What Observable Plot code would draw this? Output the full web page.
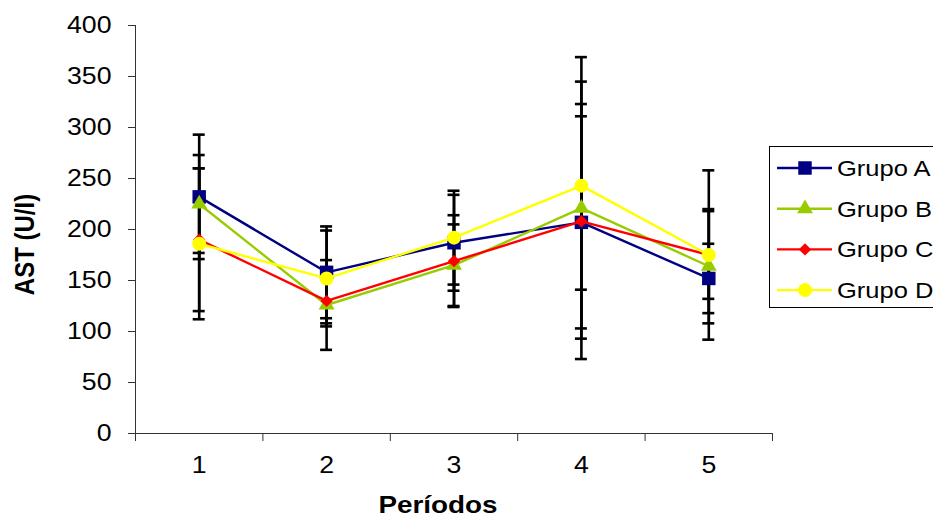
<!DOCTYPE html>
<html>
<head>
<meta charset="utf-8">
<script src="https://cdn.jsdelivr.net/npm/d3@7"></script>
<script src="https://cdn.jsdelivr.net/npm/@observablehq/plot@0.6"></script>
<style>
  html, body { margin: 0; padding: 0; background: #fff; }
  #chart { position: relative; width: 933px; height: 519px; overflow: hidden;
           font-family: "Liberation Sans", Arial, sans-serif; }
  #legend { position: absolute; left: 769px; top: 146px; width: 180px; height: 162px;
            border: 1px solid #000; box-sizing: border-box; background: #fff; }
  #legend svg { position: absolute; left: 0; top: 0; overflow: visible; }
</style>
</head>
<body>
<div id="chart"></div>
<script>
// AST (U/l) by period: group means and standard deviations
const periods = [1, 2, 3, 4, 5];
const groups = ["Grupo A", "Grupo B", "Grupo C", "Grupo D"];
const colors = ["#000080", "#99CC00", "#FF0000", "#FFFF00"];
const symbols = ["square", "triangle", "diamond2", "circle"];
const symbolRadius = [7.6, 5.9, 5.6, 7];

const meanA = [232, 158, 187, 207, 152];
const sdA   = [61, 45, 47, 104, 34];
const meanB = [225, 126, 165, 221, 164];
const sdB   = [48, 44, 40, 148, 56];
const meanC = [190, 130, 169, 208, 175];
const sdC   = [70, 22, 45, 115, 43];
const meanD = [186, 152, 192, 243, 175];
const sdD   = [74, 47, 46, 102, 83];

const yTicks = d3.range(0, 401, 50);

const means = [meanA, meanB, meanC, meanD];
const sds = [sdA, sdB, sdC, sdD];

const rows = groups.flatMap((g, i) =>
  periods.map((p, j) => ({group: g, period: p, mean: means[i][j], sd: sds[i][j]})));

// cap end points for the error bars
const caps = rows.flatMap(d => [
  {period: d.period, v: d.mean + d.sd},
  {period: d.period, v: d.mean - d.sd}
]);

// category boundaries for the x-axis tick marks
const bounds = d3.range(0.5, 6, 1);
const capHalf = 0.047;

const font = '"Liberation Sans", Arial, sans-serif';
// the typeface is drawn slightly wide
const textStretch = 1.16;

const seriesMarks = groups.flatMap((g, i) => {
  const data = rows.filter(d => d.group === g);
  return [
    Plot.line(data, {x: "period", y: "mean", stroke: colors[i], strokeWidth: 2.4}),
    Plot.dot(data, {x: "period", y: "mean", symbol: symbols[i], r: symbolRadius[i],
                    fill: colors[i], stroke: "none"})
  ];
});

const chart = Plot.plot({
  width: 933,
  height: 519,
  marginLeft: 135,
  marginRight: 161,
  marginTop: 25,
  marginBottom: 86,
  style: {fontFamily: font, fontSize: "23px", color: "#000", background: "transparent"},
  x: {type: "linear", domain: [0.5, 5.5]},
  y: {domain: [0, 400]},
  marks: [
    Plot.axisY({ticks: yTicks, tickSize: 7, tickPadding: 17, label: null,
                stroke: "#333", fill: "#000"}),
    Plot.axisX({ticks: bounds, tickSize: 8, tickFormat: () => "", label: null, stroke: "#333"}),
    Plot.axisX({ticks: periods, tickSize: 0, tickPadding: 23, tickFormat: d => String(d),
                label: null, fill: "#000"}),
    Plot.ruleX([0.5], {stroke: "#333", strokeWidth: 1}),
    Plot.ruleY([0], {stroke: "#333", strokeWidth: 1}),
    // error bars
    Plot.ruleX(rows, {x: "period", y1: d => d.mean - d.sd, y2: d => d.mean + d.sd,
                      stroke: "#000", strokeWidth: 2.6}),
    Plot.ruleY(caps, {y: "v", x1: d => d.period - capHalf, x2: d => d.period + capHalf,
                      stroke: "#000", strokeWidth: 2.6}),
    ...seriesMarks,
    // axis titles
    Plot.text(["AST (U/I)"], {frameAnchor: "left", rotate: -90, dx: -110, dy: 15,
                              textAnchor: "middle", lineAnchor: "middle",
                              fontWeight: "bold", fontSize: 24, fill: "#000"}),
    Plot.text(["Períodos"], {frameAnchor: "bottom", dx: -16, dy: 72,
                             textAnchor: "middle", lineAnchor: "middle",
                             fontWeight: "bold", fontSize: 24, fill: "#000"})
  ]
});

// widen every label about its own anchor point
function stretchText(root) {
  d3.select(root).selectAll("text").each(function () {
    const t = d3.select(this);
    const tf = t.attr("transform");
    if (tf && /translate\(/.test(tf)) {
      t.attr("transform", tf.replace(/(translate\([^)]*\))/, `$1 scale(${textStretch},1)`));
    } else {
      const x = +t.attr("x") || 0, y = +t.attr("y") || 0;
      t.attr("x", null).attr("y", null)
        .attr("transform", `translate(${x},${y}) scale(${textStretch},1)` + (tf ? " " + tf : ""));
    }
  });
}
stretchText(chart);

const host = document.getElementById("chart");
host.appendChild(chart);

// legend box on the right
const legend = document.createElement("div");
legend.id = "legend";
host.appendChild(legend);
const lsvg = d3.select(legend).append("svg").attr("width", 180).attr("height", 162);
groups.forEach((g, i) => {
  const cy = 21 + i * 40.7;
  const row = lsvg.append("g").attr("transform", `translate(0,${cy})`);
  row.append("line").attr("x1", 7).attr("x2", 62).attr("y1", 0).attr("y2", 0)
    .attr("stroke", colors[i]).attr("stroke-width", 2.4);
  const symType = [d3.symbolSquare, d3.symbolTriangle, d3.symbolDiamond2, d3.symbolCircle][i];
  row.append("path")
    .attr("d", d3.symbol(symType, Math.PI * symbolRadius[i] ** 2)())
    .attr("transform", "translate(35,0)")
    .attr("fill", colors[i]);
  row.append("text").attr("x", 67).attr("y", 0).attr("dy", "0.36em")
    .attr("font-family", font).attr("font-size", 22).attr("fill", "#000").text(g);
});
stretchText(lsvg.node());
</script>
</body>
</html>
